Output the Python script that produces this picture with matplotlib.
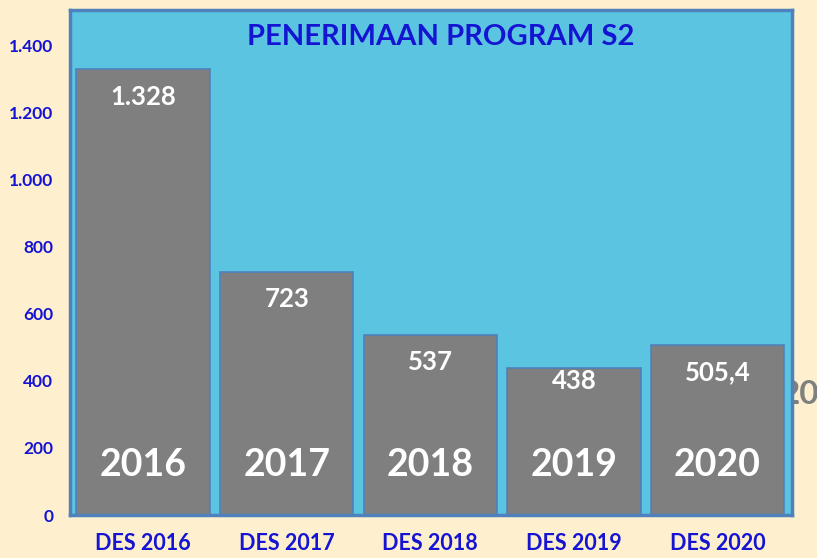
import matplotlib
matplotlib.use("Agg")
import matplotlib.pyplot as plt
from matplotlib.ticker import FuncFormatter

categories = ["DES 2016", "DES 2017", "DES 2018", "DES 2019", "DES 2020"]
years = ["2016", "2017", "2018", "2019", "2020"]
values = [1328, 723, 537, 438, 505.4]
value_labels = ["1.328", "723", "537", "438", "505,4"]
title = "PENERIMAAN PROGRAM S2"

FONT = ["Lato", "DejaVu Sans"]
BLUE = "#1414D2"
BG = "#FEF0CF"
CYAN = "#5BC5E1"
GRAY = "#7F7F7F"
EDGE = "#4F81BD"

fig = plt.figure(figsize=(8.17, 5.58), dpi=100, facecolor=BG)
ax = fig.add_axes([70/817, 1-515/558, (792-70)/817, (515-10)/558])
ax.set_zorder(1)
ax.set_facecolor(CYAN)

x = list(range(len(categories)))
bars = ax.bar(x, values, width=0.93, color=GRAY, edgecolor=EDGE, linewidth=1.2, zorder=2)
ax.set_xlim(-0.51, 4.52)
ax.set_ylim(0, 1505)
ax.set_yticks(range(0, 1401, 200))
ax.yaxis.set_major_formatter(FuncFormatter(lambda v, p: f"{int(v):,}".replace(",", ".")))
ax.set_xticks(x)
ax.set_xticklabels(categories)
ax.tick_params(axis="both", length=0, colors=BLUE)
ax.tick_params(axis="y", pad=12)
ax.tick_params(axis="x", pad=13)
for lab in ax.get_yticklabels():
    lab.set_fontfamily(FONT); lab.set_fontweight("bold"); lab.set_fontsize(12.5)
for lab in ax.get_xticklabels():
    lab.set_fontfamily(FONT); lab.set_fontweight("bold"); lab.set_fontsize(15.5)
for s in ax.spines.values():
    s.set_color(EDGE); s.set_linewidth(2.5)

label_offsets = [-20, -19.5, -19.5, -9, -19]
for i, (v, lbl) in enumerate(zip(values, value_labels)):
    ax.annotate(lbl, (i, v), xytext=(0, label_offsets[i]), textcoords="offset points",
                ha="center", va="center", color="white", fontsize=18.5, fontweight="bold",
                family=FONT, zorder=3)
    ax.text(i, 150, years[i], ha="center", va="center", color="white", fontsize=27,
            fontweight="bold", family=FONT, zorder=3)

ax.text(0.514, 0.947, title, transform=ax.transAxes, ha="center", va="center",
        color=BLUE, fontsize=21, fontweight="bold", family=FONT, zorder=3)

fig.text(781/817, 1-395/558, "2020", ha="left", va="center", color=GRAY,
         fontsize=24, fontweight="bold", family=FONT, zorder=0)

fig.savefig("out.png", dpi=100, facecolor=BG)
